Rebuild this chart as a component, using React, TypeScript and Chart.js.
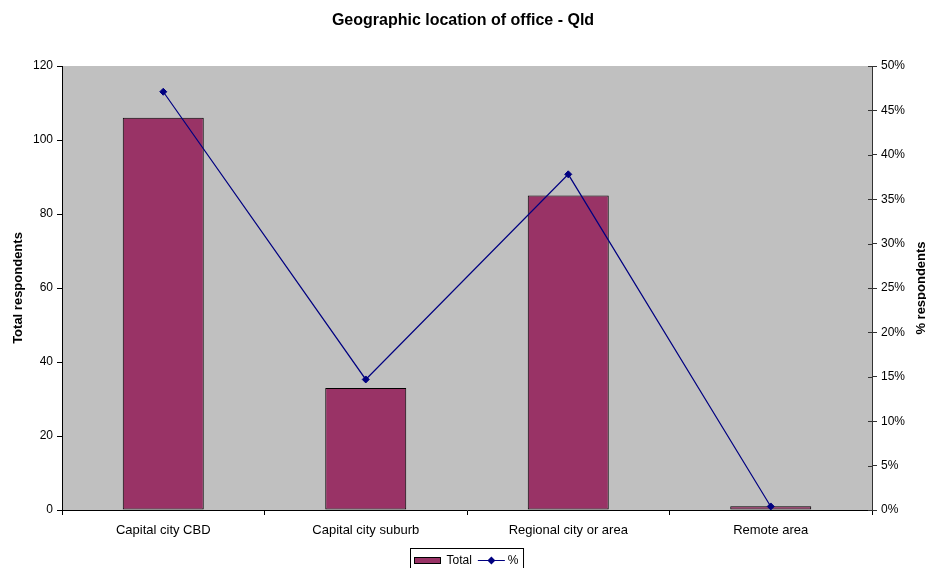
import React, { useEffect, useRef } from "react";
import { Chart, registerables } from "chart.js";

Chart.register(...registerables);

const categories = ["Capital city CBD", "Capital city suburb", "Regional city or area", "Remote area"];
const totals = [106, 33, 85, 1];
const percents = [0.471, 0.147, 0.378, 0.004];
const seriesNames = ["Total", "%"];
const chartTitle = "Geographic location of office - Qld";
const leftAxisTitle = "Total respondents";
const rightAxisTitle = "% respondents";

const FONT = "'Liberation Sans', Arial, Helvetica, sans-serif";
const BAR = "#993366";
const LINE = "#000080";
const PLOT_BG = "#C0C0C0";

const decorPlugin = {
  id: "decor",
  beforeDraw(chart: any) {
    const { ctx, chartArea: a } = chart;
    ctx.save();
    ctx.fillStyle = PLOT_BG;
    ctx.fillRect(a.left, a.top, a.right - a.left, a.bottom - a.top);
    ctx.restore();
  },
  afterDraw(chart: any) {
    const { ctx, chartArea: a } = chart;
    const y1 = chart.scales.y1;
    ctx.save();
    // inner half of the crossing ticks on the right axis
    ctx.strokeStyle = "#333";
    ctx.lineWidth = 1;
    y1.ticks.forEach((_t: any, i: number) => {
      const py = Math.round(y1.getPixelForTick(i)) + 0.5;
      ctx.beginPath();
      ctx.moveTo(a.right - 4, py);
      ctx.lineTo(a.right, py);
      ctx.stroke();
    });
    // right axis title, reading upward
    ctx.font = `bold 13px ${FONT}`;
    ctx.fillStyle = "#000";
    ctx.textAlign = "center";
    ctx.textBaseline = "middle";
    ctx.translate(chart.width - 5, (a.top + a.bottom) / 2);
    ctx.rotate(-Math.PI / 2);
    ctx.fillText(rightAxisTitle, 0, 0);
    ctx.restore();

    // legend
    ctx.save();
    ctx.font = `12px ${FONT}`;
    const tw1 = ctx.measureText(seriesNames[0]).width;
    const tw2 = ctx.measureText(seriesNames[1]).width;
    const swW = 26, lineW = 27;
    const totalW = 4 + swW + 6 + tw1 + 6 + lineW + 3 + tw2 + 5;
    const cx = chart.width / 2 + 4;
    const left = Math.round(cx - totalW / 2) + 0.5;
    const top = chart.height - 19.5;
    const cy = chart.height - 7;
    ctx.fillStyle = "#fff";
    ctx.fillRect(left, top, totalW, 22);
    ctx.strokeStyle = "#000";
    ctx.lineWidth = 1;
    ctx.strokeRect(left, top, totalW, 22);
    let x = left + 4;
    ctx.fillStyle = BAR;
    ctx.fillRect(x, cy - 4, swW, 6);
    ctx.strokeRect(x, Math.round(cy - 4) + 0.5, swW, 6);
    x += swW + 6;
    ctx.fillStyle = "#000";
    ctx.textAlign = "left";
    ctx.textBaseline = "middle";
    ctx.fillText(seriesNames[0], x, cy);
    x += tw1 + 6;
    ctx.strokeStyle = LINE;
    ctx.beginPath();
    ctx.moveTo(x, Math.round(cy) - 0.5);
    ctx.lineTo(x + lineW, Math.round(cy) - 0.5);
    ctx.stroke();
    const mx = x + lineW / 2, my = Math.round(cy) - 0.5;
    ctx.fillStyle = LINE;
    ctx.beginPath();
    ctx.moveTo(mx, my - 4);
    ctx.lineTo(mx + 4, my);
    ctx.lineTo(mx, my + 4);
    ctx.lineTo(mx - 4, my);
    ctx.closePath();
    ctx.fill();
    x += lineW + 3;
    ctx.fillStyle = "#000";
    ctx.fillText(seriesNames[1], x, cy);
    ctx.restore();
  },
};

export default function App() {
  const canvasRef = useRef<HTMLCanvasElement | null>(null);

  useEffect(() => {
    document.body.style.margin = "0";
    const canvas = canvasRef.current;
    if (!canvas) return;
    const tickFont = { family: FONT, size: 12 };
    const chart = new Chart(canvas, {
      type: "bar",
      data: {
        labels: categories,
        datasets: [
          {
            type: "line",
            label: seriesNames[1],
            data: percents,
            yAxisID: "y1",
            borderColor: LINE,
            backgroundColor: LINE,
            borderWidth: 1.2,
            pointStyle: "rectRot",
            pointRadius: 3.5,
            pointBackgroundColor: LINE,
            pointBorderColor: LINE,
            pointBorderWidth: 1,
            tension: 0,
            order: 1,
          } as any,
          {
            type: "bar",
            label: seriesNames[0],
            data: totals,
            yAxisID: "y",
            backgroundColor: BAR,
            borderColor: "#000",
            borderWidth: 1,
            borderSkipped: false,
            categoryPercentage: 1,
            barPercentage: 0.4,
            order: 2,
          } as any,
        ],
      },
      options: {
        responsive: false,
        animation: false,
        devicePixelRatio: 1,
        layout: { padding: { top: 0, bottom: 28, left: 0, right: 0 } },
        plugins: {
          legend: { display: false },
          tooltip: { enabled: false },
          title: {
            display: true,
            text: chartTitle,
            color: "#000",
            font: { family: FONT, size: 16, weight: "bold" },
            padding: { top: 10.8, bottom: 36 },
          },
        },
        scales: {
          x: {
            offset: true,
            grid: { display: true, drawOnChartArea: false, drawTicks: true, tickLength: 5, color: "#000", offset: true },
            border: { color: "#000", width: 1 },
            ticks: { color: "#000", font: { family: FONT, size: 13 }, padding: 8, maxRotation: 0, autoSkip: false },
            afterFit: (s: any) => { s.height = 30; },
          },
          y: {
            position: "left",
            min: 0,
            max: 120,
            ticks: { stepSize: 20, color: "#000", font: tickFont, padding: 4 },
            grid: { drawOnChartArea: false, drawTicks: true, tickLength: 5, color: "#000" },
            border: { color: "#000", width: 1 },
            title: {
              display: true,
              text: leftAxisTitle,
              color: "#000",
              font: { family: FONT, size: 13, weight: "bold" },
              padding: { top: 10.5, bottom: 0 },
            },
            afterFit: (s: any) => { s.width = 62; },
          },
          y1: {
            position: "right",
            min: 0,
            max: 0.5,
            ticks: {
              stepSize: 0.05,
              color: "#000",
              font: tickFont,
              padding: 4,
              callback: (v: any) => Math.round(Number(v) * 100) + "%",
            },
            grid: { drawOnChartArea: false, drawTicks: true, tickLength: 5, color: "#333" },
            border: { color: "#333", width: 1 },
            afterFit: (s: any) => { s.width = 54; },
          },
        },
      },
      plugins: [decorPlugin],
    });
    return () => chart.destroy();
  }, []);

  return (
    <div style={{ width: 926, height: 568, background: "#fff" }}>
      <canvas ref={canvasRef} width={926} height={568} style={{ display: "block", width: 926, height: 568 }} />
    </div>
  );
}
